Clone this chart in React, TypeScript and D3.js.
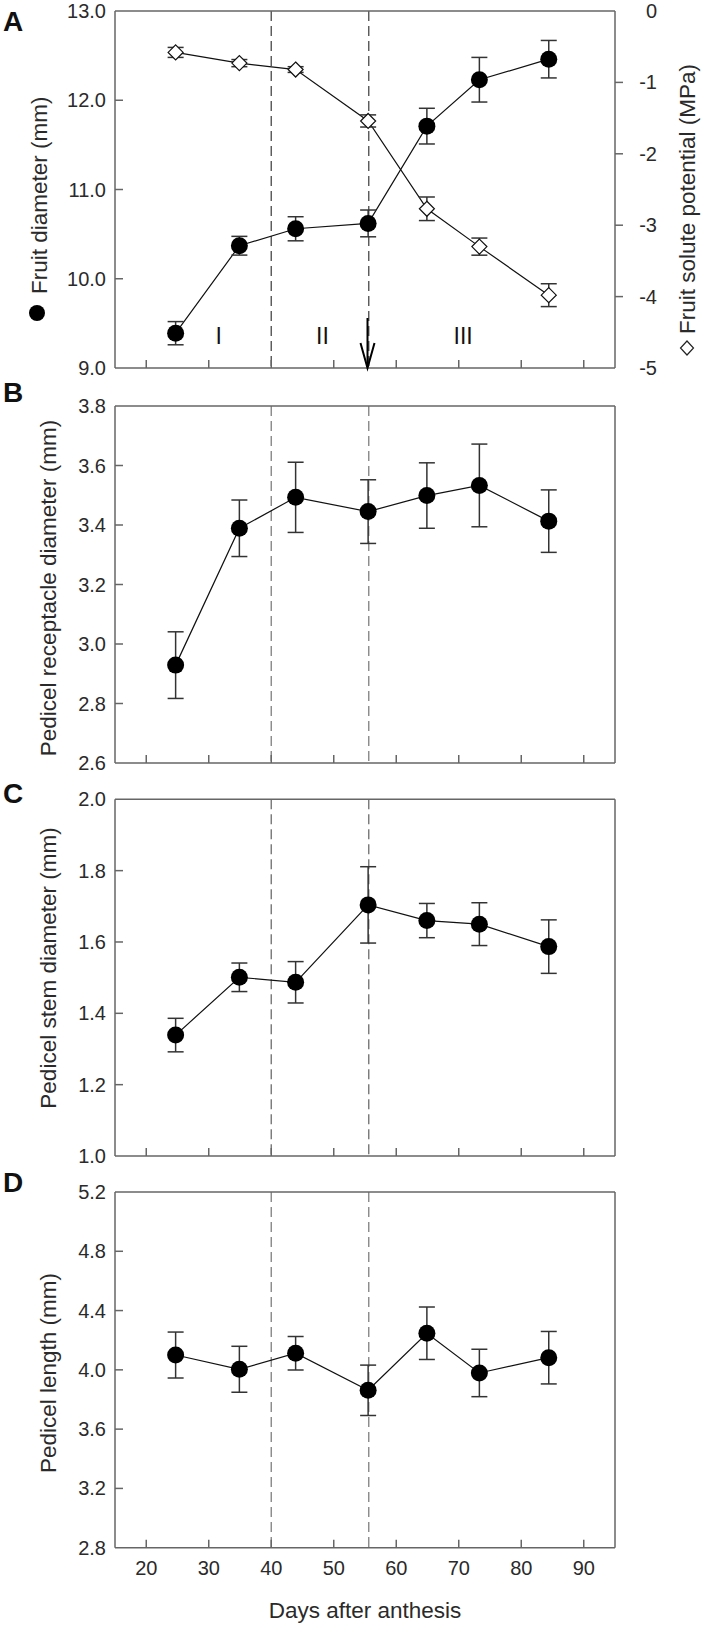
import React from "react";
import * as d3 from "d3";

const days = [24.7, 34.9, 43.9, 55.5, 64.9, 73.3, 84.4];
const fruitDiameter = [9.39, 10.37, 10.56, 10.62, 11.71, 12.23, 12.46];
const fruitDiameterErr = [0.13, 0.105, 0.135, 0.15, 0.2, 0.25, 0.21];
const solutePotential = [-0.58, -0.73, -0.82, -1.54, -2.77, -3.3, -3.98];
const solutePotentialErr = [0.07, 0.05, 0.04, 0.085, 0.165, 0.12, 0.16];
const receptacle = [2.929, 3.389, 3.493, 3.445, 3.499, 3.533, 3.413];
const receptacleErr = [0.112, 0.095, 0.118, 0.107, 0.11, 0.139, 0.105];
const stem = [1.339, 1.501, 1.487, 1.704, 1.66, 1.65, 1.587];
const stemErr = [0.047, 0.04, 0.058, 0.107, 0.048, 0.06, 0.075];
const pedicelLength = [4.1, 4.004, 4.112, 3.862, 4.247, 3.979, 4.082];
const pedicelLengthErr = [0.155, 0.155, 0.113, 0.17, 0.177, 0.16, 0.177];

const xTicks = [20, 30, 40, 50, 60, 70, 80, 90];
const stageLines = [40, 55.6];
const stageLabels = ["I", "II", "III"];
const stageLabelDays = [31.6, 48.2, 70.7];
const arrowDay = 55.4;

const ticksA = [9, 10, 11, 12, 13];
const ticksARight = [0, -1, -2, -3, -4, -5];
const ticksB = [2.6, 2.8, 3.0, 3.2, 3.4, 3.6, 3.8];
const ticksC = [1.0, 1.2, 1.4, 1.6, 1.8, 2.0];
const ticksD = [2.8, 3.2, 3.6, 4.0, 4.4, 4.8, 5.2];

const FONT = "'Liberation Sans', Arial, Helvetica, sans-serif";
const AXIS = "#666";
const TXT = "#2a2a2a";
const X0 = 115;
const X1 = 615;

const x = d3.scaleLinear().domain([15, 95]).range([X0, X1]);

function Circles({ y, values, errs }: { y: d3.ScaleLinear<number, number>; values: number[]; errs: number[] }) {
  const line = d3
    .line<number>()
    .x((_, i) => x(days[i]))
    .y((v) => y(v));
  return (
    <g>
      <path d={line(values) || ""} fill="none" stroke="#111" strokeWidth={1.2} />
      {values.map((v, i) => {
        const cx = x(days[i]);
        const y1 = y(v + errs[i]);
        const y2 = y(v - errs[i]);
        return (
          <g key={i}>
            <line x1={cx} x2={cx} y1={y1} y2={y2} stroke="#333" strokeWidth={1.5} />
            <line x1={cx - 8} x2={cx + 8} y1={y1} y2={y1} stroke="#333" strokeWidth={1.5} />
            <line x1={cx - 8} x2={cx + 8} y1={y2} y2={y2} stroke="#333" strokeWidth={1.5} />
            <circle cx={cx} cy={y(v)} r={8.5} fill="#000" />
          </g>
        );
      })}
    </g>
  );
}

function Diamonds({ y, values, errs }: { y: d3.ScaleLinear<number, number>; values: number[]; errs: number[] }) {
  const line = d3
    .line<number>()
    .x((_, i) => x(days[i]))
    .y((v) => y(v));
  return (
    <g>
      <path d={line(values) || ""} fill="none" stroke="#111" strokeWidth={1.2} />
      {values.map((v, i) => {
        const cx = x(days[i]);
        const cy = y(v);
        const y1 = y(v + errs[i]);
        const y2 = y(v - errs[i]);
        const s = 7.5;
        return (
          <g key={i}>
            <line x1={cx} x2={cx} y1={y1} y2={y2} stroke="#333" strokeWidth={1.5} />
            <line x1={cx - 8} x2={cx + 8} y1={y1} y2={y1} stroke="#333" strokeWidth={1.5} />
            <line x1={cx - 8} x2={cx + 8} y1={y2} y2={y2} stroke="#333" strokeWidth={1.5} />
            <path
              d={`M${cx},${cy - s}L${cx + s},${cy}L${cx},${cy + s}L${cx - s},${cy}Z`}
              fill="#fff"
              stroke="#111"
              strokeWidth={1.2}
            />
          </g>
        );
      })}
    </g>
  );
}

function Frame(p: {
  top: number;
  bottom: number;
  y: d3.ScaleLinear<number, number>;
  ticks: number[];
  fmt: (v: number) => string;
  showXLabels: boolean;
  dashColor: string;
}) {
  const { top, bottom, y, ticks, fmt, showXLabels, dashColor } = p;
  return (
    <g>
      {stageLines.map((d, i) => (
        <line
          key={i}
          x1={x(d)}
          x2={x(d)}
          y1={top}
          y2={bottom}
          stroke={dashColor}
          strokeWidth={1.4}
          strokeDasharray="10,5"
        />
      ))}
      <line x1={X0} x2={X1} y1={top} y2={top} stroke={AXIS} strokeWidth={1.5} />
      <line x1={X0} x2={X1} y1={bottom} y2={bottom} stroke={AXIS} strokeWidth={1.5} />
      <line x1={X0} x2={X0} y1={top} y2={bottom} stroke={AXIS} strokeWidth={1.5} />
      <line x1={X1} x2={X1} y1={top} y2={bottom} stroke={AXIS} strokeWidth={1.5} />
      {xTicks.map((t) => (
        <g key={t}>
          <line x1={x(t)} x2={x(t)} y1={bottom} y2={bottom - 8} stroke={AXIS} strokeWidth={1.5} />
          {showXLabels && (
            <text x={x(t)} y={bottom + 27} textAnchor="middle" fontFamily={FONT} fontSize={20} fill={TXT}>
              {t}
            </text>
          )}
        </g>
      ))}
      {ticks.map((t) => (
        <g key={t}>
          {t !== y.domain()[0] && t !== y.domain()[1] && (
            <line x1={X0} x2={X0 + 8} y1={y(t)} y2={y(t)} stroke={AXIS} strokeWidth={1.5} />
          )}
          <text x={106} y={y(t)} dy="0.35em" textAnchor="end" fontFamily={FONT} fontSize={20} fill={TXT}>
            {fmt(t)}
          </text>
        </g>
      ))}
    </g>
  );
}

export default function App() {
  const f1 = d3.format(".1f");
  const topA = 11, botA = 368;
  const topB = 406, botB = 763;
  const topC = 799.3, botC = 1156;
  const topD = 1192, botD = 1547.7;

  const yA = d3.scaleLinear().domain([9, 13]).range([botA, topA]);
  const yAR = d3.scaleLinear().domain([-5, 0]).range([botA, topA]);
  const yB = d3.scaleLinear().domain([2.6, 3.8]).range([botB, topB]);
  const yC = d3.scaleLinear().domain([1.0, 2.0]).range([botC, topC]);
  const yD = d3.scaleLinear().domain([2.8, 5.2]).range([botD, topD]);

  const letter = (s: string, yy: number) => (
    <text x={3} y={yy} fontFamily={FONT} fontWeight="bold" fontSize={28} fill="#111">
      {s}
    </text>
  );
  const ylabel = (s: string, cx: number, cy: number) => (
    <text
      transform={`translate(${cx},${cy}) rotate(-90)`}
      textAnchor="middle"
      fontFamily={FONT}
      fontSize={22.5}
      fill={TXT}
    >
      {s}
    </text>
  );

  const ax = x(arrowDay);

  return (
    <div style={{ position: "absolute", left: 0, top: 0 }}>
      <svg width={701} height={1626} style={{ display: "block", background: "#fff" }}>
        {/* Panel A */}
        <Frame top={topA} bottom={botA} y={yA} ticks={ticksA} fmt={f1} showXLabels={false} dashColor="#555" />
        {ticksARight.map((t) => (
          <g key={t}>
            {t !== 0 && t !== -5 && (
              <line x1={X1} x2={X1 + 8} y1={yAR(t)} y2={yAR(t)} stroke={AXIS} strokeWidth={1.5} />
            )}
            <text x={657} y={yAR(t)} dy="0.35em" textAnchor="end" fontFamily={FONT} fontSize={20} fill={TXT}>
              {t === 0 ? "0" : `-${Math.abs(t)}`}
            </text>
          </g>
        ))}
        {stageLabels.map((s, i) => (
          <text
            key={s}
            x={x(stageLabelDays[i])}
            y={336}
            dy="0.35em"
            textAnchor="middle"
            fontFamily={FONT}
            fontSize={23}
            fill="#111"
          >
            {s}
          </text>
        ))}
        <line x1={ax} x2={ax} y1={318} y2={367} stroke="#000" strokeWidth={2} />
        <path d={`M${ax - 7},${343}L${ax},${368}L${ax + 7},${343}`} fill="none" stroke="#000" strokeWidth={2} />
        <Diamonds y={yAR} values={solutePotential} errs={solutePotentialErr} />
        <Circles y={yA} values={fruitDiameter} errs={fruitDiameterErr} />
        {letter("A", 31)}
        <circle cx={37} cy={313} r={8} fill="#000" />
        <text transform={`translate(47,294) rotate(-90)`} fontFamily={FONT} fontSize={22.5} fill={TXT}>
          Fruit diameter (mm)
        </text>
        <path d="M687,341L693.5,348L687,355L680.5,348Z" fill="#fff" stroke="#222" strokeWidth={1.2} />
        <text transform={`translate(695,334) rotate(-90)`} fontFamily={FONT} fontSize={22.5} fill={TXT}>
          Fruit solute potential (MPa)
        </text>

        {/* Panel B */}
        <Frame top={topB} bottom={botB} y={yB} ticks={ticksB} fmt={f1} showXLabels={false} dashColor="#888" />
        <Circles y={yB} values={receptacle} errs={receptacleErr} />
        {letter("B", 402)}
        {ylabel("Pedicel receptacle diameter (mm)", 56, 588)}

        {/* Panel C */}
        <Frame top={topC} bottom={botC} y={yC} ticks={ticksC} fmt={f1} showXLabels={false} dashColor="#777" />
        <Circles y={yC} values={stem} errs={stemErr} />
        {letter("C", 803)}
        {ylabel("Pedicel stem diameter (mm)", 56, 968)}

        {/* Panel D */}
        <Frame top={topD} bottom={botD} y={yD} ticks={ticksD} fmt={f1} showXLabels={true} dashColor="#888" />
        <Circles y={yD} values={pedicelLength} errs={pedicelLengthErr} />
        {letter("D", 1192)}
        {ylabel("Pedicel length (mm)", 56, 1373)}
        <text x={365} y={1618} textAnchor="middle" fontFamily={FONT} fontSize={22.5} fill={TXT}>
          Days after anthesis
        </text>
      </svg>
    </div>
  );
}
